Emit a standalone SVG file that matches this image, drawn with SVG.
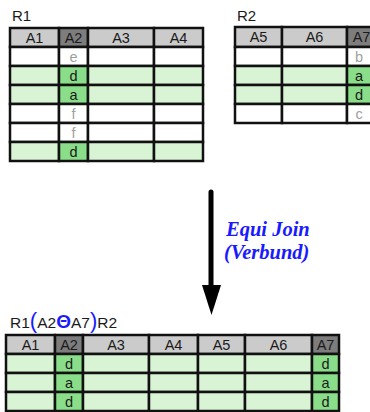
<svg xmlns="http://www.w3.org/2000/svg" width="370" height="412" viewBox="0 0 370 412">
<style>
text{font-family:"Liberation Sans",Arial,sans-serif;font-size:14.5px;fill:#1a1a1a;text-anchor:middle}
.lbl{text-anchor:start;font-size:15px}
.c{stroke:#111;stroke-width:2.5}
.h{fill:#cbcbcb}
.hk{fill:#7d7d7d}
.w{fill:#ffffff}
.g{fill:#d9f4d5}
.gk{fill:#8ade8a}
.dim{fill:#a0a0a0}
.blue{fill:#1a1aff}
.op{font-family:"Liberation Serif","Times New Roman",serif;font-weight:bold;font-style:italic;font-size:20.5px;fill:#1a1aff;text-anchor:start}
</style>
<rect width="370" height="412" fill="#fff"/>

<g id="R1">
<text class="lbl" x="12" y="21">R1</text>
<g class="c">
<rect class="h" x="10" y="28" width="49" height="19"/><rect class="hk" x="59" y="28" width="29" height="19"/><rect class="h" x="88" y="28" width="66" height="19"/><rect class="h" x="154" y="28" width="49" height="19"/>
<rect class="w" x="10" y="47" width="49" height="19"/><rect class="w" x="59" y="47" width="29" height="19"/><rect class="w" x="88" y="47" width="66" height="19"/><rect class="w" x="154" y="47" width="49" height="19"/>
<rect class="g" x="10" y="66" width="49" height="19"/><rect class="gk" x="59" y="66" width="29" height="19"/><rect class="g" x="88" y="66" width="66" height="19"/><rect class="g" x="154" y="66" width="49" height="19"/>
<rect class="g" x="10" y="85" width="49" height="19"/><rect class="gk" x="59" y="85" width="29" height="19"/><rect class="g" x="88" y="85" width="66" height="19"/><rect class="g" x="154" y="85" width="49" height="19"/>
<rect class="w" x="10" y="104" width="49" height="19"/><rect class="w" x="59" y="104" width="29" height="19"/><rect class="w" x="88" y="104" width="66" height="19"/><rect class="w" x="154" y="104" width="49" height="19"/>
<rect class="w" x="10" y="123" width="49" height="19"/><rect class="w" x="59" y="123" width="29" height="19"/><rect class="w" x="88" y="123" width="66" height="19"/><rect class="w" x="154" y="123" width="49" height="19"/>
<rect class="g" x="10" y="142" width="49" height="19"/><rect class="gk" x="59" y="142" width="29" height="19"/><rect class="g" x="88" y="142" width="66" height="19"/><rect class="g" x="154" y="142" width="49" height="19"/>
</g>
<text x="34.5" y="43">A1</text><text x="73.5" y="43">A2</text><text x="121" y="43">A3</text><text x="178.5" y="43">A4</text>
<text class="dim" x="73.5" y="62">e</text>
<text x="73.5" y="81">d</text>
<text x="73.5" y="100">a</text>
<text class="dim" x="73.5" y="119">f</text>
<text class="dim" x="73.5" y="138">f</text>
<text x="73.5" y="157">d</text>
</g>

<g id="R2">
<text class="lbl" x="237" y="21">R2</text>
<g class="c">
<rect class="h" x="235" y="27" width="47" height="20"/><rect class="h" x="282" y="27" width="65" height="20"/><rect class="hk" x="347" y="27" width="29" height="20"/>
<rect class="w" x="235" y="47" width="47" height="19"/><rect class="w" x="282" y="47" width="65" height="19"/><rect class="w" x="347" y="47" width="29" height="19"/>
<rect class="g" x="235" y="66" width="47" height="19"/><rect class="g" x="282" y="66" width="65" height="19"/><rect class="gk" x="347" y="66" width="29" height="19"/>
<rect class="g" x="235" y="85" width="47" height="19"/><rect class="g" x="282" y="85" width="65" height="19"/><rect class="gk" x="347" y="85" width="29" height="19"/>
<rect class="w" x="235" y="104" width="47" height="19"/><rect class="w" x="282" y="104" width="65" height="19"/><rect class="w" x="347" y="104" width="29" height="19"/>
</g>
<text x="258.5" y="42">A5</text><text x="314.5" y="42">A6</text><text x="361.5" y="42">A7</text>
<text class="dim" x="359" y="62">b</text>
<text x="359" y="81">a</text>
<text x="359" y="100">d</text>
<text class="dim" x="359" y="119">c</text>
</g>

<g id="connectors">
<line x1="211" y1="192" x2="211" y2="290" stroke="#000" stroke-width="5" stroke-linecap="round"/>
<polygon points="202,285 221,285 211.5,315" fill="#000"/>
<text class="op" x="226" y="236">Equi Join</text>
<text class="op" x="224" y="259">(Verbund)</text>
</g>

<g id="R3">
<text class="lbl" x="10" y="328" style="font-size:15.5px">R1<tspan class="blue" style="font-size:22px">(</tspan>A2<tspan class="blue" style="font-size:19px;font-weight:bold">Θ</tspan>A7<tspan class="blue" style="font-size:22px">)</tspan>R2</text>
<g class="c">
<rect class="h" x="6" y="335" width="49" height="19"/><rect class="hk" x="55" y="335" width="28" height="19"/><rect class="h" x="83" y="335" width="66" height="19"/><rect class="h" x="149" y="335" width="49" height="19"/><rect class="h" x="198" y="335" width="47" height="19"/><rect class="h" x="245" y="335" width="67" height="19"/><rect class="hk" x="312" y="335" width="27" height="19"/>
<rect class="g" x="6" y="354" width="49" height="19"/><rect class="gk" x="55" y="354" width="28" height="19"/><rect class="g" x="83" y="354" width="66" height="19"/><rect class="g" x="149" y="354" width="49" height="19"/><rect class="g" x="198" y="354" width="47" height="19"/><rect class="g" x="245" y="354" width="67" height="19"/><rect class="gk" x="312" y="354" width="27" height="19"/>
<rect class="g" x="6" y="373" width="49" height="19"/><rect class="gk" x="55" y="373" width="28" height="19"/><rect class="g" x="83" y="373" width="66" height="19"/><rect class="g" x="149" y="373" width="49" height="19"/><rect class="g" x="198" y="373" width="47" height="19"/><rect class="g" x="245" y="373" width="67" height="19"/><rect class="gk" x="312" y="373" width="27" height="19"/>
<rect class="g" x="6" y="392" width="49" height="19"/><rect class="gk" x="55" y="392" width="28" height="19"/><rect class="g" x="83" y="392" width="66" height="19"/><rect class="g" x="149" y="392" width="49" height="19"/><rect class="g" x="198" y="392" width="47" height="19"/><rect class="g" x="245" y="392" width="67" height="19"/><rect class="gk" x="312" y="392" width="27" height="19"/>
</g>
<text x="30.5" y="350">A1</text><text x="69" y="350">A2</text><text x="116" y="350">A3</text><text x="173.5" y="350">A4</text><text x="221.5" y="350">A5</text><text x="278.5" y="350">A6</text><text x="325.5" y="350">A7</text>
<text x="69" y="369">d</text><text x="69" y="388">a</text><text x="69" y="407">d</text>
<text x="325.5" y="369">d</text><text x="325.5" y="388">a</text><text x="325.5" y="407">d</text>
</g>
</svg>
